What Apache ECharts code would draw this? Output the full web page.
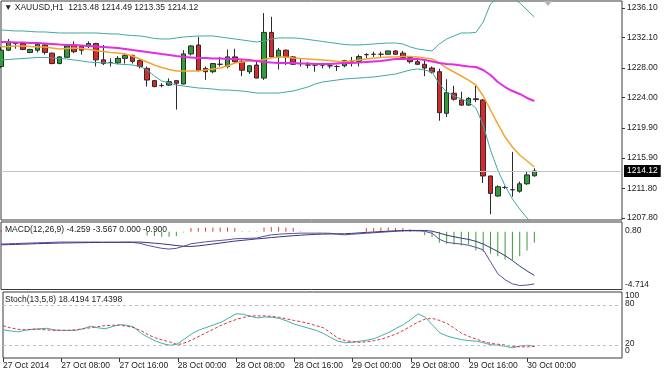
<!DOCTYPE html>
<html><head><meta charset="utf-8">
<script src="https://cdn.jsdelivr.net/npm/echarts@6/dist/echarts.min.js"></script>
<style>html,body{margin:0;padding:0;background:#fff;}#c{width:664px;height:375px;}</style>
</head><body><div id="c"></div>
<script>
// ---- data ----
const symbolName = 'XAUUSD,H1';
const xTickLabels = ['27 Oct 2014','27 Oct 08:00','27 Oct 16:00','28 Oct 00:00','28 Oct 08:00','28 Oct 16:00','29 Oct 00:00','29 Oct 08:00','29 Oct 16:00','30 Oct 00:00'];
const priceTicks = [1207.80,1211.80,1215.90,1219.90,1224.00,1228.00,1232.10,1236.10];
const macdTickValues = [0.80,-4.714];
const macdTickText = ['0.80','-4.714'];
const stochEdgeTicks = [0,100];
const stochLevels = [20,80];

const opens = [1228.2,1230.4,1231.3,1231.3,1230.1,1230.4,1231.1,1230.0,1228.6,1229.45,
 1231.1,1230.9,1230.9,1231.3,1229.1,1228.75,1228.7,1229.3,1229.7,1229.0,
 1227.95,1226.3,1225.65,1225.7,1226.3,1225.85,1229.9,1231.1,1227.95,1227.5,
 1228.5,1228.2,1229.5,1228.85,1227.5,1228.4,1226.65,1232.8,1229.5,1230.4,
 1229.5,1228.6,1228.4,1228.4,1228.4,1228.3,1228.2,1228.3,1228.9,1228.9,
 1229.8,1229.85,1229.85,1229.85,1230.3,1230.0,1229.4,1228.85,1228.5,1228.0,
 1227.5,1221.9,1224.6,1223.7,1223.0,1223.85,1223.7,1213.45,1210.75,1211.9,
 1211.6,1211.4,1212.4,1213.48];
const highs = [1230.8,1231.9,1231.5,1231.5,1230.6,1231.4,1231.3,1230.1,1229.6,1231.1,
 1231.6,1231.0,1231.6,1231.4,1231.1,1229.3,1229.6,1230.0,1229.8,1229.2,
 1228.2,1226.4,1225.95,1226.6,1226.3,1230.4,1231.1,1232.2,1228.2,1228.65,
 1229.5,1230.5,1230.6,1229.1,1228.4,1229.1,1235.4,1234.9,1230.7,1230.5,
 1229.6,1229.3,1228.8,1228.6,1228.7,1228.6,1228.4,1229.1,1229.5,1229.8,
 1230.0,1230.2,1230.2,1230.35,1230.4,1230.3,1229.5,1229.2,1229.0,1228.2,
 1227.9,1226.5,1225.6,1224.8,1224.1,1225.6,1223.8,1213.5,1212.2,1212.1,
 1216.7,1212.7,1214.0,1214.49];
const lows = [1228.0,1230.3,1230.6,1230.4,1230.0,1230.1,1229.8,1228.5,1228.5,1229.4,
 1230.0,1229.8,1230.7,1228.2,1228.4,1228.2,1228.5,1228.6,1228.6,1227.95,
 1225.5,1225.4,1225.4,1225.6,1222.4,1225.8,1229.7,1227.5,1226.4,1227.3,
 1228.2,1227.95,1228.6,1226.9,1227.2,1226.6,1226.4,1229.4,1227.8,1228.4,
 1228.4,1228.2,1227.95,1227.5,1227.95,1227.95,1227.6,1228.1,1228.2,1228.2,
 1229.3,1229.5,1229.5,1229.8,1229.8,1229.3,1228.6,1228.4,1226.9,1227.25,
 1220.9,1221.4,1223.6,1222.9,1222.9,1223.4,1212.5,1208.3,1210.65,1211.7,
 1210.65,1211.2,1212.25,1213.35];
const closes = [1230.4,1231.5,1231.3,1230.5,1230.5,1231.2,1230.1,1228.6,1229.5,1230.97,
 1230.2,1230.4,1231.3,1229.1,1228.6,1228.75,1229.3,1229.7,1228.9,1228.2,
 1226.38,1225.5,1225.65,1226.15,1225.95,1229.9,1230.97,1227.7,1227.5,1228.6,
 1228.5,1229.5,1228.85,1227.7,1228.3,1226.65,1232.8,1229.5,1230.4,1229.5,
 1228.5,1228.6,1228.4,1228.4,1228.4,1228.3,1228.2,1229.0,1228.9,1229.55,
 1229.8,1229.85,1229.85,1230.3,1229.85,1229.4,1228.85,1228.5,1228.0,1227.45,
 1221.98,1224.68,1223.8,1223.0,1223.9,1223.75,1213.45,1211.1,1212.0,1211.9,
 1211.6,1212.4,1213.6,1214.12];

const bbUpper = [1233.13,1233.06,1232.99,1232.99,1232.92,1232.86,1232.86,1232.79,1232.72,1232.72,
 1232.72,1232.72,1232.72,1232.72,1232.65,1232.59,1232.59,1232.45,1232.38,1232.32,
 1232.18,1231.98,1231.91,1231.91,1232.05,1232.18,1232.25,1232.32,1232.32,1232.32,
 1232.18,1232.05,1231.91,1231.78,1231.64,1231.51,1231.64,1231.91,1232.05,1232.05,
 1232.05,1231.98,1231.85,1231.71,1231.58,1231.44,1231.31,1231.17,1231.11,1231.11,
 1231.17,1231.24,1231.31,1231.37,1231.37,1231.24,1230.84,1230.57,1230.43,1230.30,
 1231.24,1231.91,1232.32,1232.72,1232.72,1232.79,1234.20,1236.63,1237.44,1237.71,
 1237.44,1236.77,1235.82,1234.88];
const bbLower = [1229.08,1229.15,1229.22,1229.28,1229.35,1229.42,1229.42,1229.35,1229.28,1229.22,
 1229.08,1228.95,1228.81,1228.74,1228.68,1228.68,1228.54,1228.47,1228.41,1228.20,
 1227.73,1226.92,1226.25,1225.98,1225.71,1225.58,1225.44,1225.31,1225.24,1225.17,
 1225.04,1225.04,1224.97,1224.90,1224.77,1224.63,1224.63,1224.63,1224.63,1224.77,
 1224.90,1225.17,1225.44,1225.85,1226.11,1226.25,1226.38,1226.52,1226.59,1226.65,
 1226.72,1226.79,1226.92,1227.06,1227.19,1227.46,1227.73,1227.87,1227.73,1227.46,
 1225.85,1224.77,1224.23,1223.82,1223.42,1222.61,1220.32,1216.95,1214.25,1212.10,
 1210.36,1209.00,1207.78,1206.84];
const maFast = [1230.84,1230.90,1230.97,1230.97,1230.90,1230.84,1230.84,1230.70,1230.57,1230.63,
 1230.70,1230.63,1230.50,1230.36,1230.23,1230.09,1230.03,1229.89,1229.62,1229.22,
 1228.81,1228.41,1228.07,1227.80,1227.60,1227.60,1227.60,1227.60,1227.73,1227.87,
 1228.00,1228.27,1228.68,1228.81,1228.95,1228.95,1229.15,1229.35,1229.49,1229.49,
 1229.35,1229.28,1229.22,1229.15,1229.08,1229.01,1228.88,1228.88,1228.95,1229.08,
 1229.22,1229.35,1229.42,1229.49,1229.49,1229.55,1229.55,1229.49,1229.35,1229.22,
 1228.68,1228.00,1227.46,1226.92,1226.38,1225.71,1224.23,1222.34,1220.46,1218.70,
 1217.35,1216.28,1215.47,1214.66];
const maSlow = [1231.51,1231.51,1231.44,1231.44,1231.37,1231.37,1231.31,1231.24,1231.17,1231.11,
 1231.11,1231.04,1230.97,1230.90,1230.84,1230.77,1230.70,1230.57,1230.43,1230.30,
 1230.16,1230.03,1229.89,1229.76,1229.62,1229.49,1229.42,1229.35,1229.35,1229.28,
 1229.28,1229.22,1229.22,1229.15,1229.08,1228.95,1228.81,1228.74,1228.68,1228.68,
 1228.68,1228.61,1228.61,1228.54,1228.54,1228.54,1228.61,1228.68,1228.68,1228.74,
 1228.81,1228.88,1228.95,1229.08,1229.22,1229.22,1229.22,1229.22,1229.08,1228.88,
 1228.68,1228.54,1228.47,1228.34,1228.20,1228.14,1227.73,1227.06,1226.11,1225.44,
 1224.90,1224.50,1223.96,1223.55];

const macdMain = [-1.00,-0.98,-0.96,-0.94,-0.92,-0.90,-0.88,-0.86,-0.84,-0.84,
 -0.84,-0.84,-0.84,-0.84,-0.86,-0.86,-0.87,-0.87,-0.87,-0.94,
 -1.10,-1.23,-1.35,-1.41,-1.35,-1.18,-0.98,-0.90,-0.82,-0.76,
 -0.71,-0.65,-0.57,-0.55,-0.53,-0.51,-0.37,-0.25,-0.20,-0.16,
 -0.14,-0.11,-0.11,-0.11,-0.11,-0.12,-0.19,-0.25,-0.20,-0.16,
 -0.12,-0.08,-0.04,0.00,0.04,0.08,0.08,0.08,0.04,-0.12,
 -0.61,-0.86,-0.94,-1.00,-1.10,-1.27,-1.47,-2.45,-3.43,-3.92,
 -4.25,-4.39,-4.35,-4.259];
const macdSignal = [-1.06,-1.05,-1.03,-1.01,-0.99,-0.97,-0.95,-0.94,-0.92,-0.91,
 -0.90,-0.89,-0.88,-0.87,-0.86,-0.85,-0.85,-0.84,-0.84,-0.84,
 -0.88,-0.93,-0.98,-1.05,-1.12,-1.18,-1.20,-1.15,-1.08,-1.00,
 -0.92,-0.84,-0.76,-0.70,-0.64,-0.58,-0.53,-0.47,-0.42,-0.37,
 -0.32,-0.28,-0.24,-0.21,-0.19,-0.18,-0.17,-0.16,-0.13,-0.09,
 -0.05,-0.02,0.02,0.05,0.08,0.10,0.11,0.11,0.11,0.05,
 -0.10,-0.28,-0.40,-0.52,-0.62,-0.78,-1.00,-1.30,-1.61,-1.95,
 -2.35,-2.80,-3.20,-3.567];
const macdHist = [0.15,0,0,0,0,0,0,0,0,0,
 0,0,0,0,0,0,0,0,0,0,
 -0.30,-0.35,-0.40,-0.40,-0.35,-0.05,0.30,0.30,0.35,0.35,
 0.35,0.35,0.30,0.05,0.05,0.05,0.35,0.40,0.40,0.35,
 0.30,0.05,0,0,0,0,0,0,0,0,
 0.30,0.30,0.35,0.35,0.30,0.30,0.20,0.05,-0.28,-0.44,
 -0.90,-0.98,-1.04,-1.12,-1.04,-1.53,-1.63,-1.80,-1.99,-2.26,
 -2.32,-1.99,-1.53,-0.90];

const stochMain = [42.7,41.1,39.6,41.9,43.5,44.3,45.0,42.7,41.9,41.9,
 41.9,44.3,48.2,45.8,44.3,47.4,50.5,49.7,46.6,37.2,
 31.0,25.5,21.6,19.2,21.6,29.4,37.2,42.7,46.6,50.5,
 54.4,60.7,66.9,66.2,63.0,60.7,62.3,61.5,59.9,56.0,
 51.3,48.2,45.0,41.9,37.2,31.0,25.5,23.1,23.9,25.5,
 27.0,29.4,34.1,38.8,45.0,50.5,58.3,66.9,61.5,49.7,
 38.0,33.3,30.2,27.8,26.3,25.5,23.1,20.0,19.2,17.7,
 15.3,18.4,19.2,18.4194];
const stochSignal = [49.0,45.8,43.5,42.7,43.5,43.5,42.7,41.9,41.9,41.9,
 42.7,44.3,45.8,47.4,49.0,49.7,49.7,48.2,45.8,41.1,
 34.9,30.2,27.0,23.9,20.0,23.1,27.8,33.3,38.8,44.3,
 49.7,54.4,58.3,61.5,63.8,63.8,63.8,63.0,61.5,59.1,
 56.8,54.9,52.1,49.0,45.8,38.0,30.2,26.3,24.7,23.6,
 24.7,26.3,28.6,32.5,36.4,41.9,48.2,54.4,59.1,59.9,
 56.8,52.1,45.0,37.2,32.5,28.6,24.7,22.0,20.8,19.5,
 17.7,16.9,16.9,17.4398];

// ---- build ----
const nSlots = 86; // bars plus empty chart-shift space on the right
const categories = [];
const t0 = Date.UTC(2014, 9, 27, 0);
for (let i = 0; i < nSlots; i++) {
  const d = new Date(t0 + i * 3600e3);
  categories.push(d.getUTCDate() + ' Oct ' + String(d.getUTCHours()).padStart(2,'0') + ':00');
}
const candleData = opens.map((o, i) => [o, closes[i], lows[i], highs[i]]);
const last = opens.length - 1;
const FONT = 'Liberation Sans';
const FS = 8.5;
const TXT = '#222';

const showTick = (idx) => idx % 8 === 0 && idx / 8 < xTickLabels.length;

const chart = echarts.init(document.getElementById('c'));
const gridBase = {left: 1, width: 621, show: true, borderColor: '#3a3a3a', borderWidth: 1, backgroundColor: '#fff'};
const xBase = (g) => ({type: 'category', gridIndex: g, data: categories, boundaryGap: false,
  axisLine: {show: false}, axisTick: {show: false}, axisLabel: {show: false}, splitLine: {show: false}});
const labelAxis = (g, values, richSet, fmt) => ({type: 'value', gridIndex: g, position: 'right', offset: 0, min: 0, max: 100,
  axisLine: {show: false}, splitLine: {show: false}, axisTick: {show: false},
  axisLabel: {customValues: values, margin: 3, fontSize: FS, color: TXT, fontFamily: FONT, hideOverlap: false,
    showMinLabel: true, showMaxLabel: true, formatter: fmt, rich: richSet}});

chart.setOption({
  animation: false,
  textStyle: {fontFamily: FONT},
  title: [
    {text: '\u25BC ' + symbolName + '  ' + [opens[last], highs[last], lows[last], closes[last]].map(v => v.toFixed(2)).join(' '),
     left: 4, top: 3, padding: 0, textStyle: {fontSize: FS, fontWeight: 'normal', color: TXT, fontFamily: FONT}},
    {text: 'MACD(12,26,9) ' + macdMain[last].toFixed(3) + ' ' + macdSignal[last].toFixed(3) + ' 0.000 ' + macdHist[last].toFixed(3),
     left: 5, top: 225, padding: 0, textStyle: {fontSize: FS, fontWeight: 'normal', color: TXT, fontFamily: FONT}},
    {text: 'Stoch(13,5,8) ' + stochMain[last].toFixed(4) + ' ' + stochSignal[last].toFixed(4),
     left: 5, top: 295, padding: 0, textStyle: {fontSize: FS, fontWeight: 'normal', color: TXT, fontFamily: FONT}}
  ],
  graphic: [{type: 'polygon', shape: {points: [[544, 1], [552, 1], [548, 6]]}, style: {fill: '#b4b4b4'}, z: 100}],
  grid: [
    Object.assign({top: 1, height: 219}, gridBase),
    Object.assign({top: 222, height: 67.5}, gridBase),
    Object.assign({top: 292, height: 66}, gridBase)
  ],
  xAxis: [
    xBase(0), xBase(1),
    Object.assign(xBase(2), {
      axisTick: {show: true, interval: (i) => showTick(i), length: 4, lineStyle: {color: '#333'}},
      axisLabel: {show: true, interval: (i) => showTick(i), formatter: (v, i) => showTick(i) ? xTickLabels[i / 8] : '',
        align: 'left', margin: 3, fontSize: FS, color: TXT, fontFamily: FONT}
    })
  ],
  yAxis: [
    {type: 'value', gridIndex: 0, position: 'right', min: 1207.52, max: 1237.03, scale: true,
     axisLine: {show: false}, splitLine: {show: false},
     axisTick: {show: true, customValues: priceTicks, length: 3, lineStyle: {color: '#333'}},
     axisLabel: {customValues: priceTicks, formatter: (v) => v.toFixed(2), margin: 5, fontSize: FS, color: TXT, fontFamily: FONT, hideOverlap: false}},
    {type: 'value', gridIndex: 1, position: 'right', min: -4.714, max: 0.8,
     axisLine: {show: false}, splitLine: {show: false}, axisTick: {show: false},
     axisLabel: {customValues: macdTickValues, margin: 3, fontSize: FS, color: TXT, fontFamily: FONT, hideOverlap: false,
       showMinLabel: true, showMaxLabel: true,
       formatter: (v) => v > 0 ? '{t|' + macdTickText[0] + '}' : '{b|' + macdTickText[1] + '}',
       rich: {t: {padding: [17, 0, 0, 0], fontSize: FS, color: TXT}, b: {padding: [0, 0, 10, 0], fontSize: FS, color: TXT}}}},
    // stochastic window: one axis for the level labels (20/80), one for the edge labels (0/100)
    labelAxis(2, stochLevels, {lv: {padding: [0, 0, 3, 0], fontSize: FS, color: TXT}}, (v) => '{lv|' + v + '}'),
    labelAxis(2, stochEdgeTicks, {top: {padding: [8, 0, 0, 0], fontSize: FS, color: TXT}, bot: {padding: [0, 0, 14, 0], fontSize: FS, color: TXT}},
      (v) => v > 50 ? '{top|' + v + '}' : '{bot|' + v + '}')
  ],
  series: [
    {type: 'candlestick', xAxisIndex: 0, yAxisIndex: 0, data: candleData, barWidth: 5, z: 2,
     itemStyle: {color: '#2f9e3a', color0: '#d62a2a', borderColor: '#2b2b2b', borderColor0: '#2b2b2b', borderColorDoji: '#2b2b2b', borderWidth: 1},
     markLine: {silent: true, symbol: ['none', 'none'], animation: false,
       lineStyle: {color: '#c4c4c4', width: 1, type: 'solid'},
       label: {position: 'end', formatter: closes[last].toFixed(2), backgroundColor: '#000', color: '#fff', fontSize: FS, fontFamily: FONT, padding: [2, 3, 1, 3], distance: 2},
       data: [{yAxis: closes[last]}]}},
    {type: 'line', xAxisIndex: 0, yAxisIndex: 0, data: bbUpper, symbol: 'none', z: 3, lineStyle: {color: '#3fa89f', width: 1}},
    {type: 'line', xAxisIndex: 0, yAxisIndex: 0, data: bbLower, symbol: 'none', z: 3, lineStyle: {color: '#3fa89f', width: 1}},
    {type: 'line', xAxisIndex: 0, yAxisIndex: 0, data: maFast, symbol: 'none', z: 3, lineStyle: {color: '#f4a531', width: 1.5}},
    {type: 'line', xAxisIndex: 0, yAxisIndex: 0, data: maSlow, symbol: 'none', z: 3, lineStyle: {color: '#e22ee2', width: 2}},
    {type: 'bar', xAxisIndex: 1, yAxisIndex: 1, data: macdHist, barWidth: 1, z: 2,
     itemStyle: {color: (p) => p.value >= 0 ? '#e23b3b' : '#3c9b3c'}},
    {type: 'line', xAxisIndex: 1, yAxisIndex: 1, data: macdMain, symbol: 'none', z: 3, lineStyle: {color: '#5a4ea0', width: 1}},
    {type: 'line', xAxisIndex: 1, yAxisIndex: 1, data: macdSignal, symbol: 'none', z: 3, lineStyle: {color: '#35397a', width: 1}},
    {type: 'line', xAxisIndex: 2, yAxisIndex: 2, data: stochMain, symbol: 'none', z: 3, lineStyle: {color: '#3db3a8', width: 1},
     markLine: {silent: true, symbol: ['none', 'none'], animation: false, label: {show: false},
       lineStyle: {color: '#bdbdbd', width: 1, type: [3, 3]}, data: stochLevels.map(v => ({yAxis: v}))}},
    {type: 'line', xAxisIndex: 2, yAxisIndex: 2, data: stochSignal, symbol: 'none', z: 3, lineStyle: {color: '#e03434', width: 1, type: [3, 2]}}
  ]
});
</script>
</body></html>
